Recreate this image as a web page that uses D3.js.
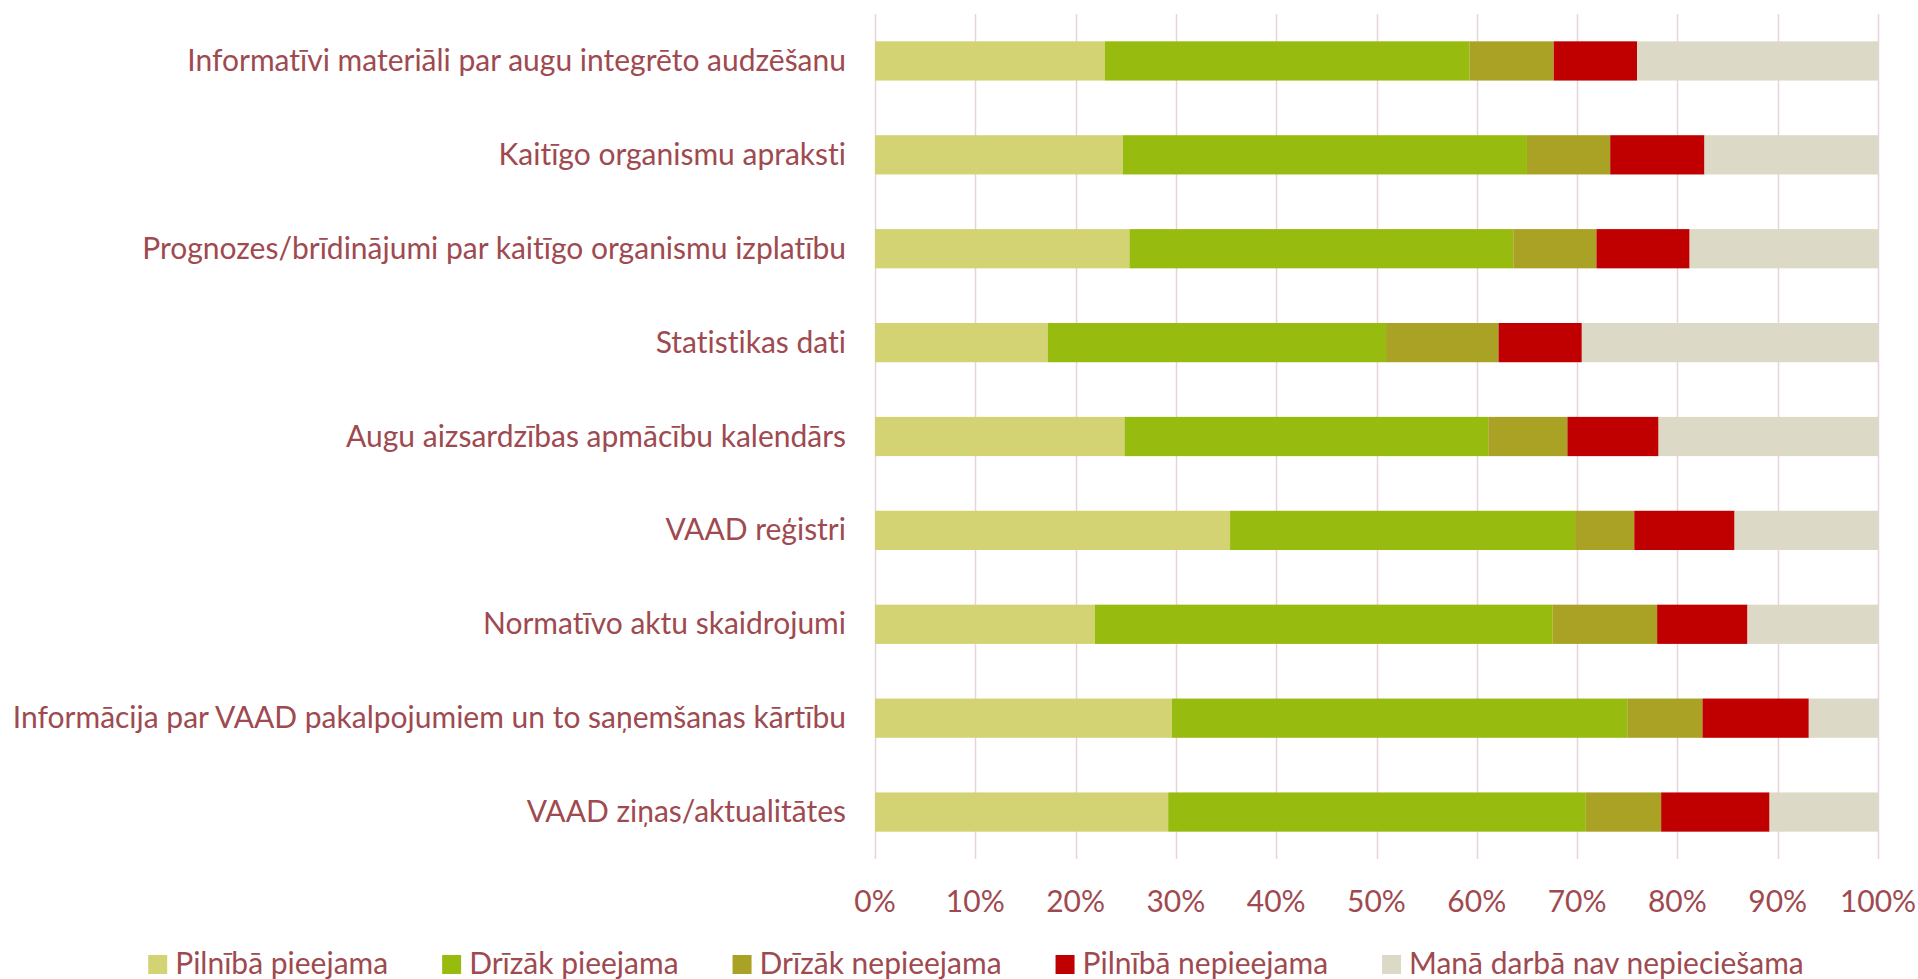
<!DOCTYPE html>
<html>
<head>
<meta charset="utf-8">
<script src="https://cdn.jsdelivr.net/npm/d3@7"></script>
<style>
  body { margin: 0; background: #fff; }
  text { font-family: Lato, "Open Sans", sans-serif; fill: #9E4A50; font-variant-ligatures: none; }
</style>
</head>
<body>
<div class="chart"></div>
<script>
var categories = [
  "Informatīvi materiāli par augu integrēto audzēšanu",
  "Kaitīgo organismu apraksti",
  "Prognozes/brīdinājumi par kaitīgo organismu izplatību",
  "Statistikas dati",
  "Augu aizsardzības apmācību kalendārs",
  "VAAD reģistri",
  "Normatīvo aktu skaidrojumi",
  "Informācija par VAAD pakalpojumiem un to saņemšanas kārtību",
  "VAAD ziņas/aktualitātes"
];
var seriesNames = ["Pilnībā pieejama", "Drīzāk pieejama", "Drīzāk nepieejama", "Pilnībā nepieejama", "Manā darbā nav nepieciešama"];
var pilnibaPieejama   = [22.9, 24.7, 25.4, 17.2, 24.9, 35.4, 21.9, 29.6, 29.2];
var drizakPieejama    = [36.3, 40.3, 38.3, 33.7, 36.3, 34.4, 45.6, 45.4, 41.6];
var drizakNepieejama  = [8.4, 8.3, 8.3, 11.2, 7.9, 5.9, 10.4, 7.5, 7.5];
var pilnibaNepieejama = [8.3, 9.4, 9.3, 8.3, 9.1, 10.0, 9.0, 10.6, 10.8];
var navNepieciesama   = [24.0, 17.3, 18.8, 29.5, 21.9, 14.3, 13.0, 6.9, 10.8];
var tickValues = [0, 0.1, 0.2, 0.3, 0.4, 0.5, 0.6, 0.7, 0.8, 0.9, 1];

var colors = ["#D3D373", "#98BB10", "#A9A224", "#C00000", "#DDD9C7"];

var w = 1918, h = 979;
var margin = {left: 875, right: 40, top: 14, bottom: 120};
var fs = 30;

var svg = d3.select("div.chart").append("svg")
  .attr("width", w)
  .attr("height", h);

var rows = categories.map(function(c, i) {
  var vals = [pilnibaPieejama[i], drizakPieejama[i], drizakNepieejama[i], pilnibaNepieejama[i], navNepieciesama[i]];
  var tot = d3.sum(vals);
  var r = {cat: c};
  seriesNames.forEach(function(s, j) { r[s] = vals[j] / tot; });
  return r;
});

var stack = d3.stack().keys(seriesNames)(rows);

var x = d3.scaleLinear().domain([0, 1]).range([margin.left, w - margin.right]);
var y = d3.scaleBand().domain(categories)
  .range([margin.top, h - margin.bottom])
  .paddingInner(0.582).paddingOuter(0.291);

// grid
svg.append("g").selectAll("line")
  .data(tickValues)
  .enter().append("line")
  .attr("x1", function(d) { return Math.round(x(d)) + 0.5; })
  .attr("x2", function(d) { return Math.round(x(d)) + 0.5; })
  .attr("y1", margin.top)
  .attr("y2", h - margin.bottom)
  .attr("stroke", "#E8D3D9")
  .attr("stroke-width", 1.5);

// bars
svg.append("g").selectAll("g")
  .data(stack)
  .enter().append("g")
  .attr("fill", function(d, i) { return colors[i]; })
  .selectAll("rect")
  .data(function(d) { return d; })
  .enter().append("rect")
  .attr("x", function(d) { return x(d[0]); })
  .attr("width", function(d) { return x(d[1]) - x(d[0]); })
  .attr("y", function(d) { return y(d.data.cat); })
  .attr("height", y.bandwidth());

// category labels
svg.append("g").selectAll("text")
  .data(categories)
  .enter().append("text")
  .attr("x", margin.left - 29)
  .attr("y", function(d) { return y(d) + y.bandwidth() / 2 + 10; })
  .attr("text-anchor", "end")
  .attr("font-size", fs)
  .text(function(d) { return d; });

// x tick labels
svg.append("g").selectAll("text")
  .data(tickValues)
  .enter().append("text")
  .attr("x", function(d) { return x(d); })
  .attr("y", 912)
  .attr("text-anchor", "middle")
  .attr("font-size", fs)
  .text(d3.format(".0%"));

// legend
var legend = svg.append("g");
var items = legend.selectAll("g")
  .data(seriesNames)
  .enter().append("g");
items.append("rect")
  .attr("width", 19).attr("height", 19)
  .attr("y", 955)
  .attr("fill", function(d, i) { return colors[i]; });
items.append("text")
  .attr("x", 27)
  .attr("y", 974)
  .attr("font-size", fs)
  .text(function(d) { return d; });

var gap = 54;
var pos = 0;
items.each(function() {
  var tw = d3.select(this).select("text").node().getComputedTextLength();
  d3.select(this).attr("transform", "translate(" + pos + ",0)");
  pos += 27 + tw + gap;
});
var legW = pos - gap;
legend.attr("transform", "translate(" + (976 - legW / 2) + ",0)");
</script>
</body>
</html>
